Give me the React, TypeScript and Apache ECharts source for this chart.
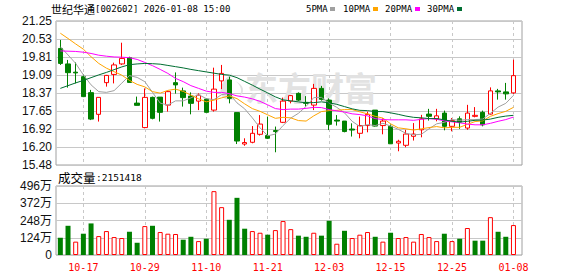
import React, { useEffect, useRef } from 'react';
import * as echarts from 'echarts';

const dates = [
  '10-14','10-15','10-16','10-17','10-20','10-21','10-22','10-23','10-24','10-27',
  '10-28','10-29','10-30','10-31','11-03','11-04','11-05','11-06','11-07','11-10',
  '11-11','11-13','11-14','11-17','11-18','11-19','11-20','11-21','11-24','11-25',
  '11-26','11-27','11-28','12-01','12-02','12-03','12-04','12-05','12-08','12-09',
  '12-10','12-11','12-12','12-15','12-16','12-17','12-18','12-19','12-22','12-23',
  '12-24','12-25','12-26','12-29','12-30','12-31','01-05','01-06','01-07','01-08'
];

const opens = [
  20.15,19.53,19.20,19.02,18.38,17.51,18.78,19.11,19.53,19.78,
  17.96,16.98,18.19,18.20,17.88,18.78,18.45,18.24,18.04,18.12,
  17.68,18.85,18.89,17.58,16.32,16.39,16.71,16.66,16.86,17.19,
  18.04,18.35,17.99,17.88,18.55,18.08,17.28,17.24,16.92,16.75,
  17.06,17.68,17.06,17.03,16.36,16.27,16.63,16.89,17.52,17.33,
  17.56,17.03,17.33,16.96,17.43,17.59,17.52,18.45,18.41,18.37
];
const closes = [
  19.55,19.18,19.17,18.22,17.32,18.19,19.07,19.49,19.75,18.79,
  17.87,18.19,17.35,17.59,18.42,18.69,18.18,17.95,18.28,17.59,
  18.52,19.15,18.15,16.44,16.38,16.75,17.12,16.55,16.82,18.04,
  18.26,18.08,17.95,18.55,18.11,17.11,17.24,16.82,16.88,17.06,
  17.51,17.04,17.24,16.33,16.43,16.72,16.72,17.33,17.43,17.45,
  17.03,17.26,17.20,17.56,17.47,17.09,18.45,18.41,18.33,19.06
];
const lows = [
  19.49,18.58,18.75,18.20,17.28,17.22,18.62,18.75,19.49,18.78,
  17.86,16.95,17.31,17.22,17.62,18.34,17.82,17.51,17.68,17.59,
  17.62,18.52,17.95,16.32,16.25,16.35,16.66,16.52,15.99,17.16,
  17.95,18.04,17.82,17.68,18.06,16.88,17.06,16.79,16.62,16.55,
  16.79,17.02,16.71,16.32,16.03,16.19,16.46,16.59,17.26,17.23,
  16.87,16.83,16.93,16.89,17.39,17.03,17.50,18.10,18.10,18.33
];
const highs = [
  20.49,19.69,19.59,19.11,18.49,18.19,19.09,19.58,20.38,19.82,
  18.22,18.55,18.22,18.20,18.45,19.19,18.58,18.39,18.35,18.15,
  19.38,19.49,19.02,17.58,16.55,17.04,17.48,17.42,17.02,18.18,
  18.28,18.39,18.24,18.73,18.65,18.15,17.48,17.24,17.15,17.42,
  17.62,17.68,17.35,17.10,16.49,16.89,17.16,17.49,17.73,17.73,
  17.66,17.36,17.43,17.89,17.80,17.66,18.59,18.53,18.77,19.70
];

const ma5 = [
  20.22,19.89,19.55,19.09,18.69,18.42,18.39,18.46,18.76,19.06,
  18.99,18.82,18.39,17.96,17.88,18.05,18.05,18.17,18.30,18.14,
  18.10,18.30,18.34,17.97,17.73,17.37,16.97,16.65,16.72,17.06,
  17.36,17.55,17.83,18.18,18.19,17.96,17.79,17.57,17.23,17.02,
  17.10,17.06,17.15,17.04,16.91,16.75,16.69,16.71,16.93,17.13,
  17.19,17.30,17.27,17.30,17.30,17.32,17.55,17.80,17.95,18.27
];
const ma10 = [
  20.76,20.55,20.33,20.12,19.82,19.55,19.36,19.22,19.08,18.87,
  18.71,18.61,18.42,18.36,18.47,18.52,18.43,18.28,18.13,18.01,
  18.08,18.17,18.25,18.14,17.93,17.74,17.63,17.49,17.35,17.39,
  17.37,17.26,17.24,17.45,17.62,17.66,17.67,17.70,17.70,17.61,
  17.53,17.43,17.36,17.13,16.97,16.93,16.88,16.93,16.98,17.02,
  16.97,16.99,16.99,17.11,17.22,17.25,17.43,17.54,17.63,17.79
];
const ma20 = [
  20.05,20.04,20.03,20.00,19.95,19.88,19.84,19.81,19.80,19.78,
  19.71,19.59,19.46,19.31,19.15,18.95,18.82,18.66,18.55,18.44,
  18.39,18.39,18.34,18.25,18.20,18.13,18.03,17.89,17.74,17.70,
  17.72,17.72,17.75,17.79,17.78,17.70,17.65,17.60,17.53,17.50,
  17.45,17.34,17.30,17.29,17.29,17.29,17.27,17.31,17.34,17.31,
  17.25,17.21,17.17,17.12,17.09,17.09,17.15,17.23,17.30,17.40
];
const ma30 = [
  18.55,18.66,18.77,18.87,18.98,19.09,19.19,19.30,19.41,19.50,
  19.53,19.55,19.54,19.52,19.47,19.42,19.37,19.31,19.26,19.21,
  19.16,19.11,19.08,18.98,18.83,18.68,18.52,18.37,18.21,18.09,
  18.05,18.01,17.97,17.98,18.01,17.97,17.91,17.82,17.73,17.67,
  17.66,17.62,17.62,17.57,17.51,17.44,17.39,17.37,17.34,17.34,
  17.29,17.23,17.20,17.23,17.27,17.28,17.32,17.39,17.44,17.47
];

const volumes = [
  1240000,2100000,960000,1530000,2270000,1360000,1720000,1290000,1220000,1670000,
  880000,2080000,2100000,1650000,1530000,1510000,1100000,1310000,1000000,1170000,
  4590000,3440000,2530000,4110000,1890000,1720000,1600000,1460000,1790000,2440000,
  1860000,1390000,1310000,1600000,1390000,2460000,810000,1740000,1220000,1460000,
  1650000,1310000,960000,1600000,1220000,1290000,960000,1510000,1290000,1000000,
  1530000,1000000,1170000,1940000,1030000,1030000,2720000,1670000,1310000,2151418
];
// 1 = red (up from previous close), 0 = green
const volUp = [
  0,0,1,0,0,1,1,1,1,0,
  0,1,0,1,1,1,0,0,1,0,
  1,1,0,0,0,1,1,0,1,1,
  1,0,0,1,0,0,1,0,1,1,
  1,0,1,0,1,1,1,1,1,1,
  0,1,0,1,0,0,1,0,0,1
];

const priceTicks = ['15.48','16.20','16.92','17.65','18.37','19.09','19.81','20.53','21.25'];
const volTicks = ['0','124万','248万','372万','496万'];
const labelDates = ['10-17','10-29','11-10','11-21','12-03','12-15','12-25','01-08'];
const priceMin = 15.48;
const priceMax = 21.25;
const volMax = 4960000;

const maNames = ['5PMA','10PMA','20PMA','30PMA'];
const maColors = ['#a0a0a0','#ffa500','#ff00ff','#006e32'];
const maData = [ma5, ma10, ma20, ma30];

const stockTitle = '世纪华通';
const stockInfo = '[002602] 2026-01-08 15:00';
const volTitle = '成交量';
const volInfo = ':2151418';

let logoRegistered = false;
function registerLogo() {
  if (logoRegistered) return;
  logoRegistered = true;
  echarts.graphic.registerShape(
    'logo',
    echarts.graphic.extendPath(
      'M14 0 C6 6 1 14 3 21 C5 27 12 28 17 26 C10 24 8 18 10 12 C11 8 13 4 14 0 Z M17 8 C23 12 25 18 21 24 C27 20 27 12 17 8 Z',
      {}
    )
  );
}

export default function App() {
  const ref = useRef<HTMLDivElement>(null);

  useEffect(() => {
    if (!ref.current) return;
    registerLogo();
    const chart = echarts.init(ref.current, undefined, { renderer: 'svg' });
    const labelIdx = labelDates.map((d) => dates.indexOf(d));
    const showAt = (i: number) => labelIdx.indexOf(i) >= 0;
    const dashed = { show: true, interval: (i: number) => showAt(i), lineStyle: { color: '#c8c8c8', type: [3, 3], width: 1 } };

    const candleData = opens.map((o, i) => [o, closes[i], lows[i], highs[i]]);
    const topTick = priceTicks[priceTicks.length - 1];
    const labelStyle = { color: '#111', fontSize: 12, fontFamily: 'Liberation Sans', margin: 4 };

    const legendTextX = [306, 343, 385, 427];
    const legendSqX = [330, 373, 415, 457];

    const graphics: any[] = [
      {
        type: 'logo', x: 218, y: 73, scaleX: 1, scaleY: 1, z: 1,
        style: { fill: '#e2e2e2' }, silent: true,
      },
      {
        type: 'text', x: 245, y: 87, z: 1, silent: true,
        style: { text: '东方财富', fill: '#e2e2e2', fontSize: 33, fontWeight: 'bold', fontFamily: 'Noto Sans CJK SC', verticalAlign: 'middle' },
      },
      {
        type: 'text', x: 51, y: 9, z: 10,
        style: { text: stockTitle, fill: '#000', fontSize: 11, fontFamily: 'Noto Sans CJK SC', verticalAlign: 'middle' },
      },
      {
        type: 'text', x: 95, y: 9, z: 10,
        style: { text: stockInfo, fill: '#000', fontSize: 9, fontFamily: 'DejaVu Sans Mono', verticalAlign: 'middle' },
      },
      {
        type: 'text', x: 58, y: 177, z: 10,
        style: { text: volTitle, fill: '#000', fontSize: 12.5, fontFamily: 'Noto Sans CJK SC', verticalAlign: 'middle' },
      },
      {
        type: 'text', x: 96, y: 177, z: 10,
        style: { text: volInfo, fill: '#000', fontSize: 9.5, fontFamily: 'DejaVu Sans Mono', verticalAlign: 'middle' },
      },
      // top price tick label (the axis hides its top label in this layout)
      {
        type: 'text', x: 52, y: 21, z: 10,
        style: { text: topTick, fill: '#111', fontSize: 12, fontFamily: 'Liberation Sans', align: 'right', verticalAlign: 'middle' },
      },
    ];
    maNames.forEach((n, k) => {
      graphics.push({
        type: 'text', x: legendTextX[k], y: 9, z: 10,
        style: { text: n, fill: '#000', fontSize: 9, fontFamily: 'DejaVu Sans Mono', verticalAlign: 'middle' },
      });
      graphics.push({
        type: 'rect', z: 10,
        shape: { x: legendSqX[k], y: 7, width: 5, height: 4 },
        style: { fill: maColors[k] },
      });
    });

    const option: any = {
      animation: false,
      backgroundColor: '#ffffff',
      grid: [
        { left: 60.34, width: 453.12, top: 21, height: 144 },
        { left: 60.34, width: 453.12, top: 186, height: 69 },
        { left: 56, width: 466, top: 21, height: 144, show: true, borderColor: '#a0a0a0', borderWidth: 1, backgroundColor: 'transparent' },
        { left: 56, width: 466, top: 186, height: 69, show: true, borderColor: '#a0a0a0', borderWidth: 1, backgroundColor: 'transparent' },
      ],
      xAxis: [
        {
          type: 'category', gridIndex: 0, data: dates, boundaryGap: false,
          axisLine: { show: false }, axisTick: { show: false }, axisLabel: { show: false },
          splitLine: dashed,
        },
        {
          type: 'category', gridIndex: 1, data: dates, boundaryGap: false,
          axisLine: { show: false }, axisTick: { show: false },
          axisLabel: {
            show: true, interval: (i: number) => showAt(i), color: '#ff0000',
            fontSize: 10, fontFamily: 'DejaVu Sans Mono', margin: 7,
          },
          splitLine: dashed,
        },
        { type: 'value', gridIndex: 2, min: 0, max: 1, show: false },
        { type: 'value', gridIndex: 3, min: 0, max: 1, show: false },
      ],
      yAxis: [
        { type: 'value', gridIndex: 0, min: priceMin, max: priceMax, show: false },
        { type: 'value', gridIndex: 1, min: 0, max: volMax, show: false },
        {
          type: 'value', gridIndex: 2, min: 0, max: priceTicks.length - 1, interval: 1,
          axisLine: { show: false }, axisTick: { show: false },
          axisLabel: {
            ...labelStyle,
            formatter: (v: number) => (Math.round(v) === priceTicks.length - 1 ? '' : priceTicks[Math.round(v)]),
            showMinLabel: true, showMaxLabel: true,
          },
          splitLine: { show: true, lineStyle: { color: '#c8c8c8', width: 1 } },
        },
        {
          type: 'value', gridIndex: 3, min: 0, max: volTicks.length - 1, interval: 1,
          axisLine: { show: false }, axisTick: { show: false },
          axisLabel: {
            ...labelStyle,
            fontFamily: 'Liberation Sans, Noto Sans CJK SC',
            formatter: (v: number) => volTicks[Math.round(v)],
            showMinLabel: true, showMaxLabel: true,
          },
          splitLine: { show: true, lineStyle: { color: '#c8c8c8', width: 1 } },
        },
      ],
      series: [
        {
          type: 'candlestick', xAxisIndex: 0, yAxisIndex: 0, data: candleData,
          barWidth: 5, clip: false, z: 2,
          itemStyle: {
            color: '#ffffff', color0: '#008000',
            borderColor: '#ff0000', borderColor0: '#008000', borderWidth: 1,
          },
        },
        ...maData.map((d, k) => ({
          type: 'line', name: maNames[k], xAxisIndex: 0, yAxisIndex: 0, data: d,
          symbol: 'none', showSymbol: false, clip: false, z: 3,
          lineStyle: { width: 1, color: maColors[k] },
        })),
        {
          type: 'bar', xAxisIndex: 1, yAxisIndex: 1, barWidth: 5, clip: false, z: 2,
          data: volumes.map((v, i) => ({
            value: v,
            itemStyle: volUp[i]
              ? { color: '#ffffff', borderColor: '#ff0000', borderWidth: 1 }
              : { color: '#008000', borderColor: '#008000', borderWidth: 0 },
          })),
        },
      ],
      graphic: graphics,
    };
    chart.setOption(option);
    return () => chart.dispose();
  }, []);

  return (
    <div
      ref={ref}
      style={{ position: 'fixed', left: 0, top: 0, width: 578, height: 276, background: '#fff' }}
    />
  );
}
